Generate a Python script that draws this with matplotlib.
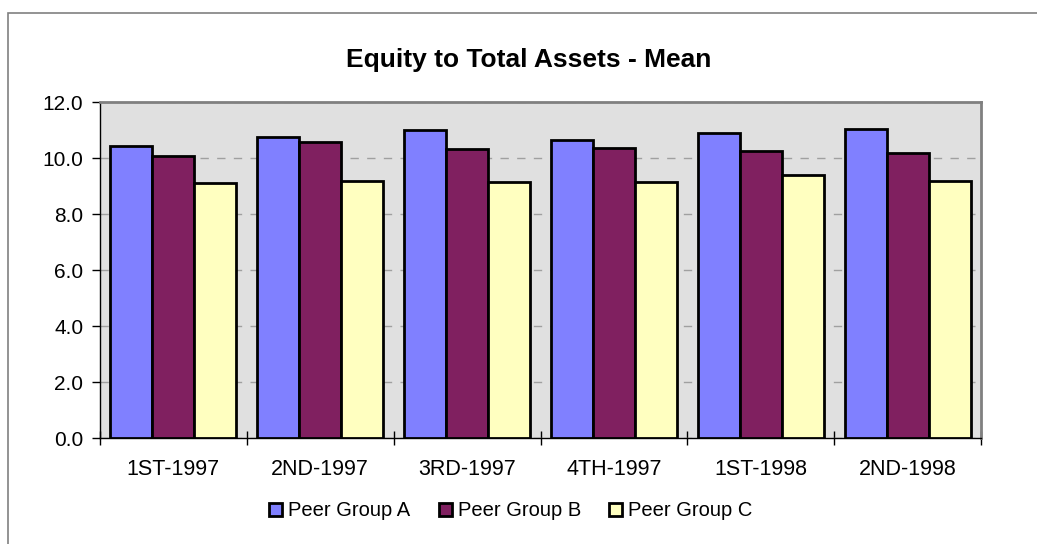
import matplotlib

matplotlib.use("Agg")
import matplotlib.pyplot as plt
import numpy as np
from matplotlib.patches import Rectangle

# data
quarters = ["1ST-1997", "2ND-1997", "3RD-1997", "4TH-1997", "1ST-1998", "2ND-1998"]
group_a = [10.43, 10.76, 11.00, 10.64, 10.90, 11.02]
group_b = [10.07, 10.56, 10.31, 10.35, 10.25, 10.19]
group_c = [9.10, 9.18, 9.15, 9.15, 9.40, 9.19]
series_names = ["Peer Group A", "Peer Group B", "Peer Group C"]
colors = ["#8080FF", "#802060", "#FFFFC0"]

plt.rcParams["font.family"] = ["Liberation Sans", "DejaVu Sans"]

fig = plt.figure(figsize=(10.37, 5.44), dpi=100)
# outer chart border (Excel chart area), runs off the right/bottom edge
fig.patches.append(Rectangle((8 / 1037, -0.1), 1.2, (544 - 13) / 544 + 0.1,
                             transform=fig.transFigure, fill=False,
                             edgecolor="#808080", lw=1.2))

ax = fig.add_axes([100 / 1037, 1 - 438 / 544, 881 / 1037, 336 / 544])
ax.set_facecolor("#E0E0E0")

x = np.arange(len(quarters))
w = 1 / 3.5  # Excel gap width 50%
for i, (vals, name, c) in enumerate(zip([group_a, group_b, group_c], series_names, colors)):
    ax.bar(x + (i - 1) * w, vals, width=w, color=c, edgecolor="black", lw=2,
           label=name, zorder=3)

ax.set_xlim(-0.5, len(quarters) - 0.5)
ax.set_ylim(0, 12)
yt = np.arange(0, 12.1, 2)
ax.set_yticks(yt)
ax.set_yticklabels([f"{v:.1f}" for v in yt], fontsize=15)
ax.set_xticks(x)
ax.set_xticklabels(quarters, fontsize=15.5)
ax.tick_params(axis="x", length=0, pad=15)
ax.set_xticks(np.arange(-0.5, len(quarters)), minor=True)
ax.tick_params(axis="x", which="minor", length=10, direction="inout", width=1)
ax.tick_params(axis="y", length=6, width=1, pad=6)
ax.yaxis.grid(True, ls=(0, (6, 6)), color="#A0A0A0", lw=1, zorder=0)

for s in ["top", "right"]:
    ax.spines[s].set_color("#808080"); ax.spines[s].set_linewidth(2)
for s in ["left", "bottom"]:
    ax.spines[s].set_color("black"); ax.spines[s].set_linewidth(1)

fig.text(529 / 1037, 1 - 60 / 544, "Equity to Total Assets - Mean", ha="center", va="center",
         fontsize=19, fontweight="bold")

fig.legend(loc="center", bbox_to_anchor=(511 / 1037, 1 - 511 / 544), ncol=3,
           frameon=False, fontsize=14.5, handlelength=0.65, handleheight=0.65,
           handletextpad=0.3, columnspacing=1.4)

fig.savefig("out.png", dpi=100)
